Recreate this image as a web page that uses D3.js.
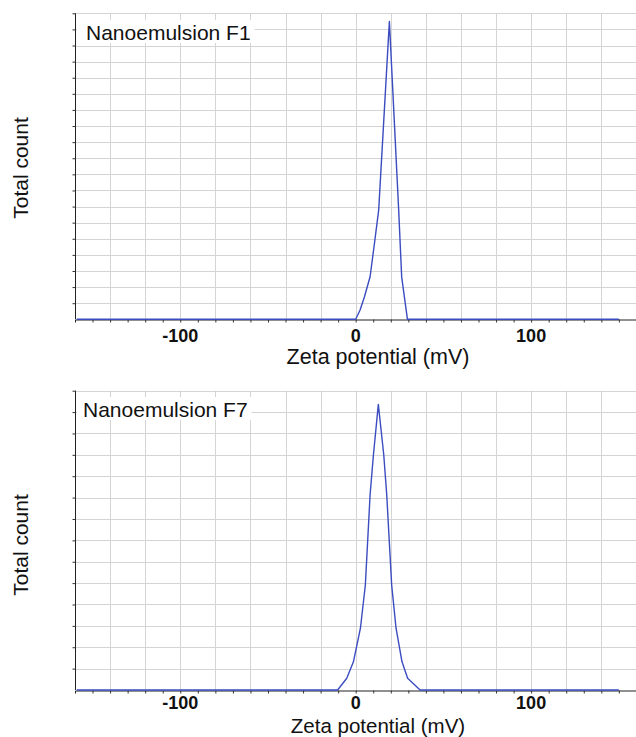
<!DOCTYPE html>
<html>
<head>
<meta charset="utf-8">
<script src="https://cdn.jsdelivr.net/npm/d3@7/dist/d3.min.js"></script>
<style>
  html, body { margin: 0; padding: 0; background: #fff; }
  svg { display: block; }
  text { font-family: "Liberation Sans", Arial, sans-serif; fill: #111; }
</style>
</head>
<body>
<svg id="chart" width="636" height="737"></svg>
<script>
// ---- data ----
const xDomain = [-160, 160];
const xTickLabels = [-100, 0, 100];
const xGridStep = 20;
const xMinorStep = 10;

const panelTitles = ["Nanoemulsion F1", "Nanoemulsion F7"];
const yAxisTitle = "Total count";
const xAxisTitle = "Zeta potential (mV)";

const f1YMax = 190;
const f7YMax = 140;
const yGridStep = 10;

const f1Zeta  = [-159, 0, 2.5, 5, 8.2, 10.7, 13.1, 19.2, 24.5, 26.2, 29.5, 150];
const f1Count = [0, 0, 5.8, 14, 26.4, 47.2, 67.8, 185, 67.8, 26.4, 0, 0];

const f7Zeta  = [-159, -10.3, -5.1, -1.3, 2.7, 5.5, 8.2, 10.1, 12.9, 16.0, 17.7, 20.5, 23.0, 26.4, 29.6, 36.7, 150];
const f7Count = [0, 0, 5.5, 13.2, 28.9, 49.1, 91.2, 109.9, 133.6, 109.9, 91.2, 49.1, 28.9, 13.2, 5.5, 0, 0];

// ---- drawing ----
const svg = d3.select("#chart");
const gridColor = "#d4d4d4";
const lineColor = "#3b4cc0";

function drawPanel(cfg) {
  const x = d3.scaleLinear().domain(xDomain).range([75, 636.4]);
  const y = d3.scaleLinear().domain([0, cfg.yMax]).range([cfg.bottom, cfg.top]);
  const g = svg.append("g");

  // grid
  const xs = d3.range(xDomain[0] + xGridStep, xDomain[1] + 0.001, xGridStep);
  g.append("g").selectAll("line").data(xs).join("line")
    .attr("x1", d => Math.round(x(d)) + 0.5).attr("x2", d => Math.round(x(d)) + 0.5)
    .attr("y1", cfg.top).attr("y2", cfg.bottom)
    .attr("stroke", gridColor).attr("stroke-width", 1);
  const ys = d3.range(yGridStep, cfg.yMax + 0.001, yGridStep);
  g.append("g").selectAll("line").data(ys).join("line")
    .attr("x1", x(xDomain[0])).attr("x2", 636)
    .attr("y1", d => Math.round(y(d)) + 0.5).attr("y2", d => Math.round(y(d)) + 0.5)
    .attr("stroke", gridColor).attr("stroke-width", 1);

  // title box & title
  const tx = cfg.titleX, tb = cfg.titleBaseline;
  const title = g.append("text").attr("x", tx).attr("y", tb)
    .attr("font-size", 21).text(cfg.title);
  const w = title.node().getComputedTextLength();
  g.insert("rect", "text").attr("x", x(xDomain[0]) + 2).attr("y", tb - 20)
    .attr("width", w + (tx - x(xDomain[0])) + 2).attr("height", 23).attr("fill", "#fff");

  // axes
  const xAxis = d3.axisBottom(x)
    .tickValues(d3.range(xDomain[0] + xMinorStep, xDomain[1], xMinorStep))
    .tickSize(3).tickFormat("");
  const gx = g.append("g").attr("transform", `translate(0,${Math.round(cfg.bottom) + 0.5})`).call(xAxis);
  gx.select(".domain").attr("stroke", "#222");
  gx.selectAll(".tick line").attr("stroke", "#333");

  const yAxis = d3.axisLeft(y).tickValues(ys).tickSize(3).tickFormat("");
  const gy = g.append("g").attr("transform", `translate(${Math.round(x(xDomain[0])) + 0.5},0)`).call(yAxis);
  gy.select(".domain").attr("stroke", "#222").attr("d", `M0,${cfg.top}V${cfg.bottom}`);
  gy.selectAll(".tick line").attr("stroke", "#333");

  // tick labels
  g.append("g").selectAll("text").data(xTickLabels).join("text")
    .attr("x", d => x(d)).attr("y", cfg.tickBaseline)
    .attr("text-anchor", "middle").attr("font-size", 18).attr("font-weight", "bold")
    .text(d => d);

  // data line
  const pts = cfg.xs.map((v, i) => [v, cfg.ys[i]]);
  g.append("path").datum(pts)
    .attr("d", d3.line().x(d => x(d[0])).y(d => y(d[1])))
    .attr("fill", "none").attr("stroke", lineColor).attr("stroke-width", 1.4)
    .attr("stroke-linejoin", "round");

  // axis titles
  g.append("text").attr("x", 378).attr("y", cfg.xTitleBaseline)
    .attr("text-anchor", "middle").attr("font-size", cfg.xTitleSize).text(xAxisTitle);
  g.append("text")
    .attr("transform", `translate(28,${cfg.yTitleCenter}) rotate(-90)`)
    .attr("text-anchor", "middle").attr("font-size", 21).text(yAxisTitle);
}

drawPanel({ title: panelTitles[0], yMax: f1YMax, xs: f1Zeta, ys: f1Count,
  top: 13.3, bottom: 319.3, titleX: 86, titleBaseline: 40,
  tickBaseline: 342, xTitleBaseline: 364, xTitleSize: 21.5, yTitleCenter: 168 });

drawPanel({ title: panelTitles[1], yMax: f7YMax, xs: f7Zeta, ys: f7Count,
  top: 390.7, bottom: 690, titleX: 83, titleBaseline: 417,
  tickBaseline: 709, xTitleBaseline: 733, xTitleSize: 20.5, yTitleCenter: 545 });
</script>
</body>
</html>
